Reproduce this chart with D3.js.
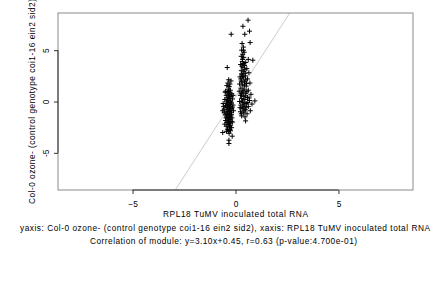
<!DOCTYPE html>
<html lang="en">
  <head>
    <meta charset="UTF-8" />
    <title>Correlation of module</title>
    <script src="https://d3js.org/d3.v7.min.js"></script>
    <style>
      body {
        margin: 0;
        background: white;
      }
      svg {
        display: block;
        font-family: 'Liberation Sans', Arial, sans-serif;
      }
      text {
        font-size: 8.3px;
        fill: #000;
      }
    </style>
  </head>
  <body>
    <svg width="432" height="288"></svg>

    <script>
      // axis ticks
      const xTicks = [-5, 0, 5];
      const yTicks = [-5, 0, 5];

      // regression line y = slope * x + intercept
      const slope = 3.1;
      const intercept = 0.45;

      // RPL18 TuMV (x) vs Col-0 ozone- (y), left group
      const groupLeft = [
        [-0.21, 6.55], [-0.40, 3.31], [-0.33, 2.12], [-0.22, 2.0], [-0.37, 1.8],
        [-0.27, 1.7], [-0.42, 1.55], [-0.30, 1.45], [-0.35, 1.2], [-0.25, 1.1],
        [-0.48, 1.0], [-0.38, 0.9], [-0.28, 0.85], [-0.50, 0.9], [-0.18, 0.75],
        [-0.45, 0.6], [-0.33, 0.55], [-0.22, 0.5], [-0.12, 0.6], [-0.40, 0.35],
        [-0.30, 0.3], [-0.15, 0.25], [-0.52, 0.2], [-0.36, 0.1], [-0.26, 0.05],
        [-0.44, -0.05], [-0.32, -0.1], [-0.20, -0.15], [-0.60, -0.2], [-0.38, -0.25],
        [-0.28, -0.3], [-0.12, -0.35], [-0.48, -0.4], [-0.34, -0.45], [-0.24, -0.5],
        [-0.58, -0.5], [-0.42, -0.6], [-0.30, -0.65], [-0.18, -0.7], [-0.55, -0.75],
        [-0.36, -0.8], [-0.26, -0.85], [-0.10, -0.9], [-0.62, -0.9], [-0.45, -0.95],
        [-0.32, -1.0], [-0.20, -1.05], [-0.55, -1.1], [-0.40, -1.15], [-0.28, -1.2],
        [-0.50, -1.3], [-0.35, -1.35], [-0.22, -1.4], [-0.43, -1.5], [-0.30, -1.55],
        [-0.17, -1.6], [-0.38, -1.7], [-0.26, -1.75], [-0.48, -1.85], [-0.33, -1.9],
        [-0.21, -1.95], [-0.14, -2.0], [-0.41, -2.05], [-0.29, -2.1], [-0.52, -2.2],
        [-0.36, -2.25], [-0.24, -2.3], [-0.45, -2.4], [-0.31, -2.5], [-0.19, -2.55],
        [-0.39, -2.7], [-0.27, -2.75], [-0.44, -2.9], [-0.35, -2.9], [-0.62, -3.02],
        [-0.16, -3.38], [-0.32, -3.77], [-0.32, -4.09], [-0.34, 1.0], [-0.31, 0.7],
        [-0.27, 0.45], [-0.39, 0.15], [-0.23, -0.05], [-0.35, -0.6], [-0.29, -0.95],
        [-0.37, -1.25], [-0.25, -1.6], [-0.34, -2.0], [-0.28, -2.4], [-0.40, -0.35],
        [-0.46, -1.6], [-0.20, -1.25], [-0.15, -0.55], [-0.31, -3.1], [-0.24, -2.85]
      ];

      // right group
      const groupRight = [
        [0.61, 7.92], [0.36, 7.33], [0.45, 6.55], [0.68, 6.85], [0.71, 5.74],
        [0.32, 5.65], [0.38, 5.3], [0.30, 5.0], [0.42, 4.8], [0.35, 4.6],
        [0.28, 4.4], [0.40, 4.3], [0.84, 4.02], [0.62, 4.1], [0.50, 3.8],
        [0.33, 3.9], [0.25, 3.6], [0.44, 3.5], [0.36, 3.3], [0.55, 3.2],
        [0.28, 3.0], [0.40, 2.9], [0.65, 2.8], [0.30, 2.7], [0.32, 2.6],
        [0.48, 2.5], [0.22, 2.4], [0.38, 2.3], [0.58, 2.2], [0.50, 2.1],
        [0.28, 2.0], [0.44, 1.9], [0.70, 1.8], [0.20, 1.7], [0.35, 1.6],
        [0.52, 1.5], [0.26, 1.3], [0.42, 1.2], [0.62, 1.1], [0.18, 1.0],
        [0.33, 0.9], [0.50, 0.8], [0.75, 0.7], [0.24, 0.6], [0.40, 0.5],
        [0.58, 0.4], [0.30, 0.3], [0.46, 0.2], [0.94, 0.06], [0.68, 0.1],
        [0.20, 0.0], [0.36, -0.1], [0.60, -0.1], [0.52, -0.2], [0.80, -0.25],
        [0.26, -0.35], [0.42, -0.45], [0.62, -0.5], [0.22, -0.6], [0.32, -0.7],
        [0.48, -0.8], [0.72, -0.9], [0.24, -1.0], [0.40, -1.1], [0.56, -1.2],
        [0.30, -1.4], [0.46, -1.5], [0.49, -1.89], [0.34, 4.1], [0.39, 3.7],
        [0.31, 3.45], [0.45, 3.1], [0.35, 2.45], [0.43, 1.6], [0.31, 1.9],
        [0.37, 1.05], [0.47, 0.55], [0.34, 0.05], [0.55, 0.95], [0.29, 0.75],
        [0.41, -0.25], [0.36, -0.55], [0.52, -0.55], [0.28, -1.2], [0.42, -0.9],
        [0.66, 0.35], [0.54, 1.75], [0.26, 2.2], [0.47, 2.75], [0.39, 5.0]
      ];

      const points = groupLeft.concat(groupRight);

      const svg = d3.select('svg');

      const x = d3.scaleLinear().domain([-8.62, 8.62]).range([58, 413]);
      const y = d3.scaleLinear().domain([-8.62, 8.62]).range([190, 13]);

      svg
        .append('clipPath')
        .attr('id', 'plot-clip')
        .append('rect')
        .attr('x', 58)
        .attr('y', 13)
        .attr('width', 355)
        .attr('height', 177);

      // fitted line
      const xLo = (y.domain()[0] - intercept) / slope;
      const xHi = (y.domain()[1] - intercept) / slope;
      svg
        .append('line')
        .attr('clip-path', 'url(#plot-clip)')
        .attr('x1', x(xLo))
        .attr('y1', y(y.domain()[0]))
        .attr('x2', x(xHi))
        .attr('y2', y(y.domain()[1]))
        .attr('stroke', '#cccccc')
        .attr('stroke-width', 1);

      // points as "+" markers
      const cross = 2.5;
      svg
        .append('g')
        .selectAll('path')
        .data(points)
        .join('path')
        .attr(
          'd',
          (d) =>
            `M${x(d[0]) - cross},${y(d[1])}h${cross * 2}M${x(d[0])},${y(d[1]) - cross}v${cross * 2}`,
        )
        .attr('stroke', '#000')
        .attr('stroke-width', 1)
        .attr('fill', 'none');

      // box
      svg
        .append('rect')
        .attr('x', 58)
        .attr('y', 13)
        .attr('width', 355)
        .attr('height', 177)
        .attr('fill', 'none')
        .attr('stroke', '#8a8a8a')
        .attr('stroke-width', 1);

      // X axis
      const xAxis = svg
        .append('g')
        .attr('transform', 'translate(0,190)')
        .call(d3.axisBottom(x).tickValues(xTicks).tickSize(4).tickPadding(7));
      xAxis.select('.domain').remove();
      xAxis.selectAll('.tick line').attr('stroke', '#333');
      xAxis.selectAll('.tick text').attr('font-size', 8.3).attr('font-family', null);
      xAxis
        .append('line')
        .attr('x1', x(xTicks[0]))
        .attr('x2', x(xTicks[xTicks.length - 1]))
        .attr('stroke', '#333');

      // Y axis
      const yAxis = svg
        .append('g')
        .attr('transform', 'translate(58,0)')
        .call(d3.axisLeft(y).tickValues(yTicks).tickSize(4).tickFormat((d) => d));
      yAxis.select('.domain').remove();
      yAxis.selectAll('.tick line').attr('stroke', '#333');
      yAxis
        .selectAll('.tick text')
        .attr('font-size', 8.3)
        .attr('font-family', null)
        .attr('x', null)
        .attr('dy', null)
        .attr('text-anchor', 'middle')
        .attr('transform', 'translate(-9,0) rotate(-90)');
      yAxis
        .append('line')
        .attr('y1', y(yTicks[0]))
        .attr('y2', y(yTicks[yTicks.length - 1]))
        .attr('stroke', '#333');

      // titles (stretched to the widths measured on the reference)
      svg
        .append('text')
        .attr('x', 235.5)
        .attr('y', 217)
        .attr('text-anchor', 'middle')
        .attr('textLength', 145)
        .attr('lengthAdjust', 'spacing')
        .text('RPL18 TuMV inoculated total RNA');

      svg
        .append('text')
        .attr('transform', 'translate(35,101.5) rotate(-90)')
        .attr('text-anchor', 'middle')
        .attr('textLength', 205)
        .attr('lengthAdjust', 'spacing')
        .text('Col-0 ozone- (control genotype coi1-16 ein2 sid2)');

      svg
        .append('text')
        .attr('x', 225)
        .attr('y', 231)
        .attr('text-anchor', 'middle')
        .attr('textLength', 410)
        .attr('lengthAdjust', 'spacing')
        .text(
          'yaxis: Col-0 ozone- (control genotype coi1-16 ein2 sid2), xaxis: RPL18 TuMV inoculated total RNA',
        );

      svg
        .append('text')
        .attr('x', 223.5)
        .attr('y', 244)
        .attr('text-anchor', 'middle')
        .attr('textLength', 267)
        .attr('lengthAdjust', 'spacing')
        .text('Correlation of module: y=3.10x+0.45, r=0.63 (p-value:4.700e-01)');
    </script>
  </body>
</html>
